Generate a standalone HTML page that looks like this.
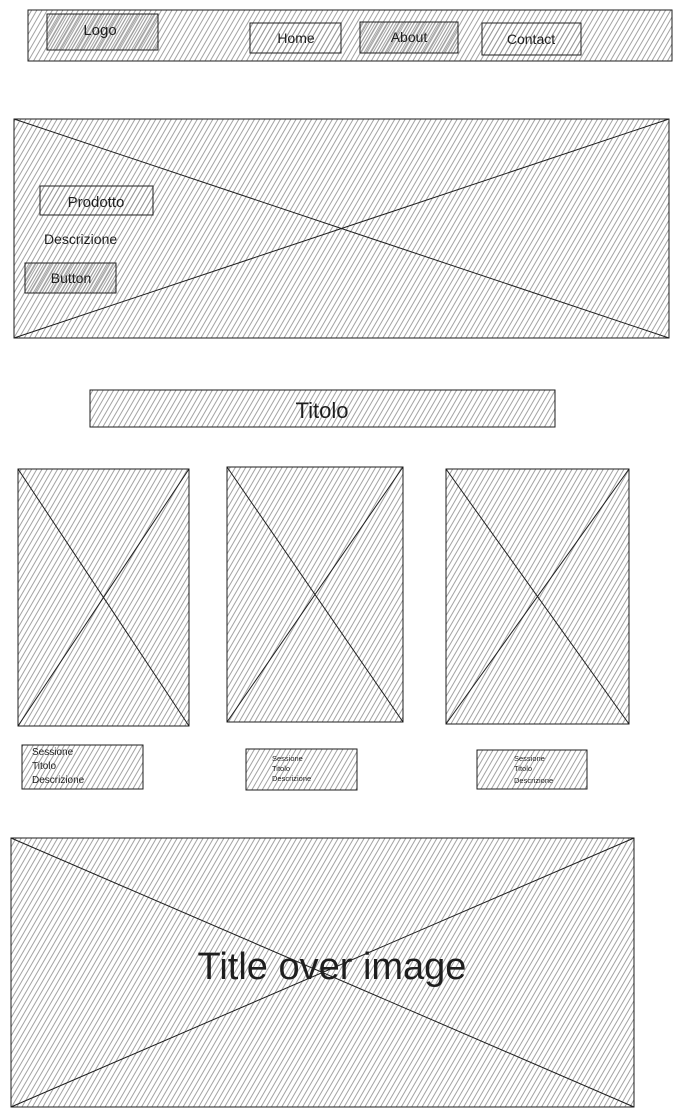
<!DOCTYPE html>
<html><head><meta charset="utf-8"><style>
html,body{margin:0;padding:0;background:#fff;width:681px;height:1116px;overflow:hidden}
svg{display:block}
text{font-family:"Comic Sans MS","Liberation Sans",sans-serif;fill:#1e1e1e}
</style></head><body>
<svg width="681" height="1116" viewBox="0 0 681 1116" xmlns="http://www.w3.org/2000/svg">
<defs>
<pattern id="h" width="4.5" height="10" patternUnits="userSpaceOnUse" patternTransform="rotate(30)">
<line x1="1" y1="0" x2="1" y2="10" stroke="#999" stroke-width="0.9"/>
</pattern>
<pattern id="d" width="2.6" height="10" patternUnits="userSpaceOnUse" patternTransform="rotate(30)">
<line x1="1" y1="0" x2="1" y2="10" stroke="#999" stroke-width="0.9"/>
</pattern>
</defs>
<g stroke="#1e1e1e" stroke-width="1">
<rect x="28" y="10" width="644" height="51" fill="url(#h)"/>
<rect x="47" y="14" width="111" height="36" fill="url(#d)"/>
<rect x="250" y="23" width="91" height="30" fill="url(#h)"/>
<rect x="360" y="22" width="98" height="31" fill="url(#d)"/>
<rect x="482" y="23" width="99" height="32" fill="url(#h)"/>

<rect x="14" y="119" width="655" height="219" fill="url(#h)"/>
<line x1="14" y1="119" x2="669" y2="338"/><line x1="669" y1="119" x2="14" y2="338"/>
<rect x="40" y="186" width="113" height="29" fill="url(#h)"/>
<rect x="25" y="263" width="91" height="30" fill="url(#d)"/>

<rect x="90" y="390" width="465" height="37" fill="url(#h)"/>

<rect x="18" y="469" width="171" height="257" fill="url(#h)"/>
<line x1="18" y1="469" x2="189" y2="726"/><line x1="189" y1="469" x2="18" y2="726"/>
<rect x="227" y="467" width="176" height="255" fill="url(#h)"/>
<line x1="227" y1="467" x2="403" y2="722"/><line x1="403" y1="467" x2="227" y2="722"/>
<rect x="446" y="469" width="183" height="255" fill="url(#h)"/>
<line x1="446" y1="469" x2="629" y2="724"/><line x1="629" y1="469" x2="446" y2="724"/>

<rect x="22" y="745" width="121" height="44" fill="url(#h)"/>
<rect x="246" y="749" width="111" height="41" fill="url(#h)"/>
<rect x="477" y="750" width="110" height="39" fill="url(#h)"/>

<rect x="11" y="838" width="623" height="269" fill="url(#h)"/>
<line x1="11" y1="838" x2="634" y2="1107"/><line x1="634" y1="838" x2="11" y2="1107"/>
</g>
<text x="100" y="35" font-size="15" text-anchor="middle">Logo</text>
<text x="296" y="43" font-size="14" text-anchor="middle">Home</text>
<text x="409" y="42" font-size="14" text-anchor="middle">About</text>
<text x="531" y="44" font-size="14" text-anchor="middle">Contact</text>
<text x="96" y="207" font-size="15" text-anchor="middle">Prodotto</text>
<text x="44" y="244" font-size="14">Descrizione</text>
<text x="71" y="283" font-size="14" text-anchor="middle">Button</text>
<text x="322" y="418" font-size="22" text-anchor="middle">Titolo</text>
<text x="32" y="755" font-size="10">Sessione</text>
<text x="32" y="769" font-size="10">Titolo</text>
<text x="32" y="783" font-size="10">Descrizione</text>
<text x="272" y="761" font-size="7.5">Sessione</text>
<text x="272" y="771" font-size="7.5">Titolo</text>
<text x="272" y="781" font-size="7.5">Descrizione</text>
<text x="514" y="761" font-size="7.5">Sessione</text>
<text x="514" y="771" font-size="7.5">Titolo</text>
<text x="514" y="783" font-size="7.5">Descrizione</text>
<text x="332" y="979" font-size="38" text-anchor="middle">Title over image</text>
</svg>
</body></html>
